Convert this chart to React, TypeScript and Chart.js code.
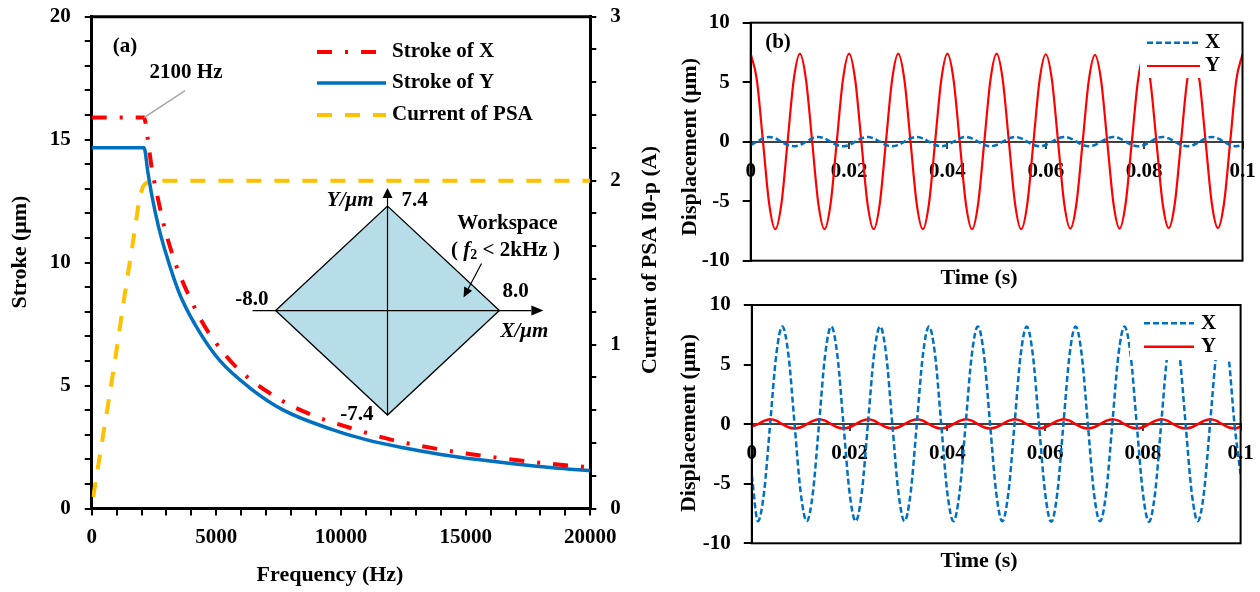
import React, { useEffect, useRef } from 'react';
import { Chart, registerables } from 'chart.js';

Chart.register(...registerables);

const FAMILY = "'Liberation Serif', 'Times New Roman', Times, serif";
const TICK_FONT = { family: FAMILY, size: 21, weight: 'bold' as const };

// ---------------- Panel (a) data ----------------
const freqStrokeX = [0, 2100, 2246, 2400, 2700, 2900, 3200, 3380, 4340, 4950, 5850, 7490, 9090, 10050, 12000, 14000, 16000, 18000, 20000];
const strokeX = [15.9, 15.9, 15.05, 13.9, 12.4, 11.5, 10.45, 9.9, 7.75, 6.78, 5.7, 4.47, 3.7, 3.38, 2.8, 2.4, 2.1, 1.86, 1.67];

const freqStrokeY = [0, 2100, 2250, 2400, 2670, 2940, 3300, 3600, 4340, 5150, 6350, 7690, 9560, 11000, 12500, 14000, 15500, 17000, 18500, 20000];
const strokeY = [14.67, 14.67, 13.7, 12.8, 11.5, 10.5, 9.35, 8.55, 7.15, 6.0, 4.9, 4.0, 3.24, 2.8, 2.47, 2.2, 1.99, 1.81, 1.66, 1.54];

const freqCurrent = [60, 440, 920, 1320, 1670, 1910, 2050, 2250, 2470, 20000];
const currentPSA = [0.07, 0.43, 0.89, 1.3, 1.64, 1.88, 1.96, 1.99, 2.0, 2.0];

const seriesNamesA = ['Stroke of X', 'Stroke of Y', 'Current of PSA'];

// inset workspace (µm)
const workspaceX = [-8.0, 0, 8.0, 0, -8.0];
const workspaceY = [0, 7.4, 0, -7.4, 0];

// ---------------- Panel (b) data ----------------
const timeS = [
  0, 0.00125, 0.0025, 0.00375, 0.005, 0.00625, 0.0075, 0.00875,
  0.01, 0.01125, 0.0125, 0.01375, 0.015, 0.01625, 0.0175, 0.01875,
  0.02, 0.02125, 0.0225, 0.02375, 0.025, 0.02625, 0.0275, 0.02875,
  0.03, 0.03125, 0.0325, 0.03375, 0.035, 0.03625, 0.0375, 0.03875,
  0.04, 0.04125, 0.0425, 0.04375, 0.045, 0.04625, 0.0475, 0.04875,
  0.05, 0.05125, 0.0525, 0.05375, 0.055, 0.05625, 0.0575, 0.05875,
  0.06, 0.06125, 0.0625, 0.06375, 0.065, 0.06625, 0.0675, 0.06875,
  0.07, 0.07125, 0.0725, 0.07375, 0.075, 0.07625, 0.0775, 0.07875,
  0.08, 0.08125, 0.0825, 0.08375, 0.085, 0.08625, 0.0875, 0.08875,
  0.09, 0.09125, 0.0925, 0.09375, 0.095, 0.09625, 0.0975, 0.09875,
  0.1,
];

// upper plot: X (small) and Y (large)
const upperX = [
  -0.28, 0, 0.28, 0.4, 0.28, 0, -0.28, -0.38,
  -0.28, 0, 0.28, 0.4, 0.28, 0, -0.28, -0.38,
  -0.28, 0, 0.28, 0.4, 0.28, 0, -0.28, -0.38,
  -0.28, 0, 0.28, 0.4, 0.28, 0, -0.28, -0.38,
  -0.28, 0, 0.28, 0.4, 0.28, 0, -0.28, -0.38,
  -0.28, 0, 0.28, 0.4, 0.28, 0, -0.28, -0.38,
  -0.28, 0, 0.28, 0.4, 0.28, 0, -0.28, -0.38,
  -0.28, 0, 0.28, 0.4, 0.28, 0, -0.28, -0.38,
  -0.28, 0, 0.28, 0.4, 0.28, 0, -0.28, -0.38,
  -0.28, 0, 0.28, 0.4, 0.28, 0, -0.28, -0.38,
  -0.28,
];
const upperY = [
  7.4, 5.2, 0, -5.2, -7.35, -5.2, 0, 5.2,
  7.4, 5.2, 0, -5.2, -7.35, -5.2, 0, 5.2,
  7.4, 5.2, 0, -5.2, -7.35, -5.2, 0, 5.2,
  7.4, 5.2, 0, -5.2, -7.35, -5.2, 0, 5.2,
  7.4, 5.2, 0, -5.2, -7.35, -5.2, 0, 5.2,
  7.4, 5.2, 0, -5.2, -7.35, -5.2, 0, 5.2,
  7.35, 5.2, 0, -5.2, -7.3, -5.15, 0, 5.15,
  7.3, 5.15, 0, -5.15, -7.3, -5.15, 0, 5.15,
  7.3, 5.15, 0, -5.15, -7.25, -5.15, 0, 5.15,
  7.3, 5.15, 0, -5.15, -7.25, -5.15, 0, 5.2,
  7.35,
];

// lower plot: X (large) and Y (small)
const lowerX = [
  -4.3,
  -8.15, -5.75, 0, 5.8, 8.2, 5.8, 0, -5.75,
  -8.15, -5.75, 0, 5.8, 8.2, 5.8, 0, -5.75,
  -8.15, -5.75, 0, 5.8, 8.2, 5.8, 0, -5.75,
  -8.15, -5.75, 0, 5.8, 8.2, 5.8, 0, -5.75,
  -8.15, -5.75, 0, 5.8, 8.2, 5.8, 0, -5.75,
  -8.15, -5.75, 0, 5.8, 8.2, 5.8, 0, -5.75,
  -8.2, -5.8, 0, 5.8, 8.2, 5.8, 0, -5.8,
  -8.15, -5.75, 0, 5.8, 8.2, 5.8, 0, -5.75,
  -8.2, -5.8, 0, 5.8, 8.2, 5.8, 0, -5.75,
  -8.15, -5.75, 0, 5.8, 8.2, 5.8, 0, -4.2,
];
const lowerY = [
  -0.2, 0, 0.28, 0.42, 0.3, 0, -0.26, -0.36,
  -0.26, 0, 0.28, 0.42, 0.3, 0, -0.26, -0.36,
  -0.26, 0, 0.28, 0.42, 0.3, 0, -0.26, -0.36,
  -0.26, 0, 0.28, 0.42, 0.3, 0, -0.26, -0.36,
  -0.26, 0, 0.28, 0.42, 0.3, 0, -0.26, -0.36,
  -0.26, 0, 0.28, 0.42, 0.3, 0, -0.26, -0.36,
  -0.26, 0, 0.28, 0.42, 0.3, 0, -0.26, -0.36,
  -0.26, 0, 0.28, 0.42, 0.3, 0, -0.26, -0.36,
  -0.26, 0, 0.28, 0.42, 0.3, 0, -0.26, -0.36,
  -0.26, 0, 0.28, 0.42, 0.3, 0, -0.26, -0.36,
  -0.22,
];
const seriesNamesB = ['X', 'Y'];

// ---------------- styles ----------------
const RED = '#FF0000';
const BLUE = '#0070C0';
const ORANGE = '#FFC000';
const WORKSPACE_FILL = '#B7DDE8';

const pts = (xs: number[], ys: number[]) => xs.map((x, i) => ({ x, y: ys[i] }));
const fontStr = (size: number, italic = false) => `${italic ? 'italic ' : ''}bold ${size}px ${FAMILY}`;

function text(ctx: CanvasRenderingContext2D, s: string, x: number, y: number, o: any = {}) {
  ctx.save();
  ctx.font = fontStr(o.size ?? 21, o.italic);
  ctx.fillStyle = o.color ?? '#000';
  ctx.textAlign = o.align ?? 'center';
  ctx.textBaseline = 'middle';
  ctx.translate(x, y);
  if (o.rot) ctx.rotate(o.rot);
  ctx.fillText(s, 0, 0);
  ctx.restore();
}

function arrow(ctx: CanvasRenderingContext2D, x1: number, y1: number, x2: number, y2: number, head = 10, half = 4.5) {
  const a = Math.atan2(y2 - y1, x2 - x1);
  const bx = x2 - head * Math.cos(a);
  const by = y2 - head * Math.sin(a);
  ctx.beginPath();
  ctx.moveTo(x1, y1);
  ctx.lineTo(bx, by);
  ctx.stroke();
  ctx.beginPath();
  ctx.moveTo(x2, y2);
  ctx.lineTo(bx + half * Math.sin(a), by - half * Math.cos(a));
  ctx.lineTo(bx - half * Math.sin(a), by + half * Math.cos(a));
  ctx.closePath();
  ctx.fill();
}

function sampleLine(ctx: CanvasRenderingContext2D, ds: any, x1: number, x2: number, y: number) {
  ctx.save();
  ctx.strokeStyle = ds.borderColor;
  ctx.lineWidth = ds.borderWidth;
  ctx.setLineDash(ds.borderDash || []);
  ctx.beginPath();
  ctx.moveTo(x1, y);
  ctx.lineTo(x2, y);
  ctx.stroke();
  ctx.restore();
}

// remove Chart.js automatic label overhang padding so the plot area is exact
const noPad = (s: any) => { s.paddingTop = 0; s.paddingBottom = 0; s.paddingLeft = 0; s.paddingRight = 0; };

const panelAPlugin = {
  id: 'panelA',
  afterDraw(chart: any) {
    const { ctx, chartArea: ca, scales } = chart;
    ctx.save();
    // top frame line
    ctx.strokeStyle = '#000';
    ctx.lineWidth = 3;
    ctx.beginPath();
    ctx.moveTo(ca.left - 1.5, ca.top);
    ctx.lineTo(ca.right + 1.5, ca.top);
    ctx.stroke();

    // inset axes
    const xi = scales.xi;
    const yi = scales.yi;
    const cx = xi.getPixelForValue(0);
    const cy = yi.getPixelForValue(0);
    const ty = yi.getPixelForValue(workspaceY[1]);
    const by = yi.getPixelForValue(workspaceY[3]);
    const lx = xi.getPixelForValue(workspaceX[0]);
    const rx = xi.getPixelForValue(workspaceX[2]);
    ctx.strokeStyle = '#000';
    ctx.fillStyle = '#000';
    ctx.lineWidth = 1.2;
    arrow(ctx, cx, by, cx, ty - 18, 10, 5);
    arrow(ctx, lx - 23, cy, rx + 44, cy, 12, 5);

    text(ctx, 'Y/μm', cx - 14, ty - 5, { align: 'right', italic: true });
    text(ctx, workspaceY[1].toFixed(1), cx + 14, ty - 5, { align: 'left' });
    text(ctx, workspaceX[0].toFixed(1), lx - 7, cy - 11, { align: 'right' });
    text(ctx, workspaceX[2].toFixed(1), rx + 3, cy - 19, { align: 'left' });
    text(ctx, 'X/μm', rx + 1, cy + 21, { align: 'left', italic: true });
    text(ctx, workspaceY[3].toFixed(1), cx - 14, by, { align: 'right' });
    text(ctx, 'Workspace', cx + 120, cy - 87);
    // ( f2 < 2kHz )
    {
      const parts: [string, number, boolean, number][] = [
        ['( ', 21, false, 0],
        ['f', 21, true, 0],
        ['2', 14, false, 5],
        [' < 2kHz )', 21, false, 0],
      ];
      let total = 0;
      for (const p of parts) { ctx.font = fontStr(p[1], p[2]); total += ctx.measureText(p[0]).width; }
      let x = cx + 118 - total / 2;
      for (const p of parts) {
        text(ctx, p[0], x, cy - 60 + p[3], { align: 'left', size: p[1], italic: p[2] });
        ctx.font = fontStr(p[1], p[2]);
        x += ctx.measureText(p[0]).width;
      }
    }
    ctx.lineWidth = 1.2;
    arrow(ctx, cx + 94, cy - 47, cx + 76, cy - 13, 10, 4.5);

    // 2100 Hz annotation
    const px = scales.x.getPixelForValue(freqStrokeX[1]);
    const py = scales.y.getPixelForValue(strokeX[1]);
    ctx.strokeStyle = '#A6A6A6';
    ctx.lineWidth = 1.5;
    ctx.beginPath();
    ctx.moveTo(px, py);
    ctx.lineTo(px + 41, py - 27);
    ctx.stroke();
    text(ctx, `${freqStrokeX[1]} Hz`, 186, 73);
    text(ctx, '(a)', 125, 47);

    // legend
    const rows = [52, 83, 115];
    chart.data.datasets.slice(0, 3).forEach((ds: any, i: number) => {
      sampleLine(ctx, ds, 317, 386, rows[i]);
      text(ctx, seriesNamesA[i], 392, rows[i], { align: 'left' });
    });

    // axis titles
    text(ctx, 'Stroke (μm)', 20, 252, { rot: -Math.PI / 2, size: 22 });
    text(ctx, 'Frequency (Hz)', 330, 575, { size: 22 });
    text(ctx, 'Current of PSA I0-p (A)', 650, 260, { rot: -Math.PI / 2, size: 22 });
    ctx.restore();
  },
};

function makePanelBPlugin(cfg: any) {
  return {
    id: 'panelB',
    afterDraw(chart: any) {
      const { ctx, chartArea: ca } = chart;
      ctx.save();
      // legend box (white, masks the curves underneath)
      const [bx, by, bw, bh] = cfg.box;
      ctx.fillStyle = '#fff';
      ctx.fillRect(bx, by, bw, bh);
      chart.data.datasets.forEach((ds: any, i: number) => {
        sampleLine(ctx, ds, cfg.lineX[0], cfg.lineX[1], cfg.rows[i]);
        text(ctx, seriesNamesB[i], cfg.textX, cfg.rows[i], { align: 'left' });
      });
      // frame
      ctx.strokeStyle = '#000';
      ctx.lineWidth = 2;
      ctx.setLineDash([]);
      ctx.strokeRect(ca.left, ca.top, ca.right - ca.left, ca.bottom - ca.top);
      if (cfg.label) text(ctx, cfg.label, 118, 43);
      text(ctx, 'Displacement (μm)', cfg.yTitle[0], cfg.yTitle[1], { rot: -Math.PI / 2, size: 22 });
      text(ctx, 'Time (s)', cfg.xTitle[0], cfg.xTitle[1], { size: 22 });
      ctx.restore();
    },
  };
}

function makeChartA(canvas: HTMLCanvasElement) {
  return new Chart(canvas, {
    type: 'line',
    data: {
      datasets: [
        { label: seriesNamesA[0], data: pts(freqStrokeX, strokeX), borderColor: RED, borderWidth: 4, borderDash: [15, 13, 3, 13], pointRadius: 0, cubicInterpolationMode: 'monotone', xAxisID: 'x', yAxisID: 'y' },
        { label: seriesNamesA[1], data: pts(freqStrokeY, strokeY), borderColor: BLUE, borderWidth: 3.5, pointRadius: 0, cubicInterpolationMode: 'monotone', xAxisID: 'x', yAxisID: 'y' },
        { label: seriesNamesA[2], data: pts(freqCurrent, currentPSA), borderColor: ORANGE, borderWidth: 4, borderDash: [15, 13], pointRadius: 0, cubicInterpolationMode: 'monotone', xAxisID: 'x', yAxisID: 'y1' },
        { label: 'Workspace', data: pts(workspaceX, workspaceY), borderColor: '#000', borderWidth: 1.3, backgroundColor: WORKSPACE_FILL, fill: 'shape', tension: 0, pointRadius: 0, xAxisID: 'xi', yAxisID: 'yi' },
      ],
    } as any,
    options: {
      responsive: false,
      animation: false,
      events: [],
      layout: { padding: { left: 0, right: 0, top: 16.7, bottom: 0 } },
      plugins: { legend: { display: false }, tooltip: { enabled: false } },
      scales: {
        x: {
          type: 'linear', position: 'bottom', min: 0, max: 20000,
          ticks: { stepSize: 1000, autoSkip: false, maxRotation: 0, color: '#000', font: TICK_FONT, padding: 9,
            callback: (v: any) => (Number(v) % 5000 === 0 ? String(v) : '') },
          grid: { drawOnChartArea: false, drawTicks: true, tickLength: 7, color: '#000', lineWidth: 2 },
          border: { color: '#000', width: 3 },
          afterFit: (s: any) => { s.height = 83.5; noPad(s); },
        },
        y: {
          type: 'linear', position: 'left', min: 0, max: 20,
          ticks: { stepSize: 1, autoSkip: false, color: '#000', font: TICK_FONT, padding: 14,
            callback: (v: any) => (Number(v) % 5 === 0 ? String(v) : '') },
          grid: { drawOnChartArea: false, drawTicks: true, tickLength: 7, color: '#000', lineWidth: 2 },
          border: { color: '#000', width: 3 },
          afterFit: (s: any) => { s.width = 91.7; noPad(s); },
        },
        y1: {
          type: 'linear', position: 'right', min: 0, max: 3,
          ticks: { stepSize: 0.2, autoSkip: false, color: '#000', font: TICK_FONT, padding: 14,
            callback: (v: any) => (Math.abs(Number(v) - Math.round(Number(v))) < 1e-6 ? String(Math.round(Number(v))) : '') },
          grid: { drawOnChartArea: false, drawTicks: true, tickLength: 6, color: '#000', lineWidth: 2 },
          border: { color: '#000', width: 3 },
          afterFit: (s: any) => { s.width = 69.7; noPad(s); },
        },
        xi: { type: 'linear', display: false, min: -21.15, max: 14.5 },
        yi: { type: 'linear', display: false, min: -14.02, max: 20.81 },
      },
    } as any,
    plugins: [panelAPlugin],
  });
}

function makeChartB(canvas: HTMLCanvasElement, xs: number[], ysX: number[], ysY: number[], widths: number[], pad: any, yWidth: number, cfg: any) {
  return new Chart(canvas, {
    type: 'line',
    data: {
      datasets: [
        { label: seriesNamesB[0], data: pts(xs, ysX), borderColor: BLUE, borderWidth: widths[0], borderDash: [6, 3], pointRadius: 0, cubicInterpolationMode: 'monotone' },
        { label: seriesNamesB[1], data: pts(xs, ysY), borderColor: RED, borderWidth: widths[1], pointRadius: 0, cubicInterpolationMode: 'monotone' },
      ],
    } as any,
    options: {
      responsive: false,
      animation: false,
      events: [],
      layout: { padding: pad },
      plugins: { legend: { display: false }, tooltip: { enabled: false } },
      scales: {
        x: {
          type: 'linear', position: { y: 0 }, min: 0, max: 0.1,
          ticks: { stepSize: 0.02, autoSkip: false, maxRotation: 0, color: '#000', font: TICK_FONT, padding: 11,
            callback: (v: any) => String(+Number(v).toFixed(2)) },
          grid: { drawOnChartArea: false, drawTicks: true, tickLength: 6, color: '#404040', lineWidth: 2 },
          border: { color: '#404040', width: 2 },
          afterFit: noPad,
        },
        y: {
          type: 'linear', position: 'left', min: -10, max: 10,
          ticks: { stepSize: 5, autoSkip: false, color: '#000', font: TICK_FONT, padding: 13 },
          grid: { drawOnChartArea: false, drawTicks: true, tickLength: 8, color: '#000', lineWidth: 2 },
          border: { color: '#000', width: 2 },
          afterFit: (s: any) => { s.width = yWidth; noPad(s); },
        },
      },
    } as any,
    plugins: [makePanelBPlugin(cfg)],
  });
}

export default function App() {
  const refA = useRef<HTMLCanvasElement>(null);
  const refB1 = useRef<HTMLCanvasElement>(null);
  const refB2 = useRef<HTMLCanvasElement>(null);

  useEffect(() => {
    const charts: Chart[] = [];
    if (refA.current) charts.push(makeChartA(refA.current));
    if (refB1.current) {
      charts.push(makeChartB(refB1.current, timeS, upperX, upperY, [2.5, 2.2],
        { left: 0, right: 17.5, top: 22.7, bottom: 29.3 }, 90.7,
        { box: [480, 28, 90, 50], lineX: [487, 540], rows: [42.7, 66], textX: 545, label: '(b)', yTitle: [30, 147], xTitle: [319, 278] }));
    }
    if (refB2.current) {
      charts.push(makeChartB(refB2.current, timeS, lowerX, lowerY, [2.5, 2.5],
        { left: 0, right: 19.4, top: 15, bottom: 48.7 }, 91.8,
        { box: [470, 20, 106, 50], lineX: [484, 534], rows: [33.3, 56.7], textX: 541, label: '', yTitle: [29, 133], xTitle: [319, 271] }));
    }
    return () => charts.forEach((c) => c.destroy());
  }, []);

  return (
    <div style={{ position: 'absolute', left: 0, top: 0, width: 1260, height: 592, background: '#fff', overflow: 'hidden' }}>
      <canvas ref={refA} width={660} height={592} style={{ position: 'absolute', left: 0, top: 0 }} />
      <canvas ref={refB1} width={600} height={290} style={{ position: 'absolute', left: 660, top: 0 }} />
      <canvas ref={refB2} width={600} height={302} style={{ position: 'absolute', left: 660, top: 290 }} />
    </div>
  );
}
